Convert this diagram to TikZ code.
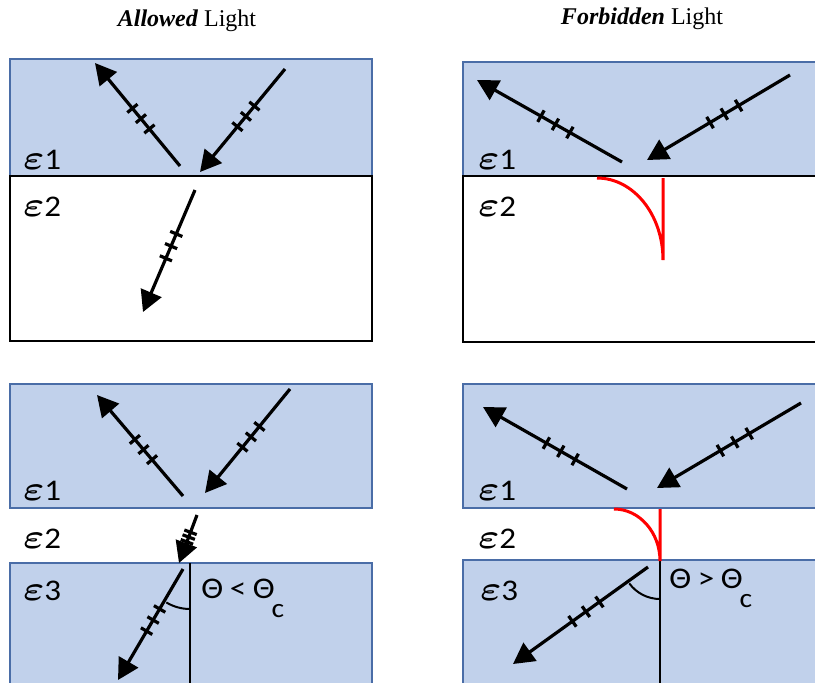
\documentclass[tikz,border=0pt]{standalone}
\usepackage{fontspec}
\usepackage{bm}
\setmainfont{Liberation Serif}
\newfontfamily\calfont{Carlito}
\usetikzlibrary{arrows.meta,decorations.markings}
\definecolor{mediumfill}{HTML}{C1D1EB}
\definecolor{mediumedge}{HTML}{4A6DA7}
\definecolor{fieldred}{HTML}{FF0000}
\newcommand{\widetext}[1]{\scalebox{1.1}[1]{#1}}
\newcommand{\permittivity}[1]{\scalebox{1.15}[1]{\fontsize{16}{16}\selectfont$\bm{\varepsilon}$}\widetext{#1}}
\newcommand{\critical}{\raisebox{-9.5pt}{\widetext{\fontsize{13.5}{14}\selectfont c}}}

\begin{document}
\begin{tikzpicture}[x=0.5pt,y=-0.5pt,
  mediumbox/.style={fill=mediumfill,draw=mediumedge,line width=0.6pt},
  gapbox/.style={fill=white,draw=black,line width=1.1pt},
  paneltitle/.style={font=\fontsize{12}{14}\selectfont,inner sep=0pt},
  mlabel/.style={font=\calfont\fontsize{15}{17}\selectfont,anchor=west,inner sep=0pt},
  anglelabel/.style={mlabel,anchor=base west},
  polarization/.style={-,line width=1.6pt,draw=black},
  lightray/.style={draw=black,line width=1.6pt,-{Triangle[length=10.5pt,width=11pt]},
    postaction={decorate,decoration={markings,
      mark=at position 0.36 with {\draw[polarization] (0,-3.3pt) -- (0,3.3pt);},
      mark=at position 0.46 with {\draw[polarization] (0,-3.3pt) -- (0,3.3pt);},
      mark=at position 0.56 with {\draw[polarization] (0,-3.3pt) -- (0,3.3pt);}}}},
  evanescent/.style={draw=fieldred,line width=1.5pt},
  normalline/.style={draw=black,line width=1.3pt},
  anglearc/.style={draw=black,line width=1pt}
]
\path[use as bounding box] (0,0) rectangle (815,682);
\clip (0,0) rectangle (815,682);

% Column titles
\node[paneltitle] (allowedtitle) at (187,21) {\textbf{\textit{Allowed}} Light};
\node[paneltitle] (forbiddentitle) at (642,19) {\textbf{\textit{Forbidden}} Light};

% Allowed, two media
\draw[mediumbox] (10,59) rectangle (372,176);
\draw[gapbox] (10,176) rectangle (372,341);
\node[mlabel] (aeps1) at (23,160) {\permittivity{1}};
\node[mlabel] (aeps2) at (23,207) {\permittivity{2}};
\coordinate (arefS) at (180,166);
\coordinate (arefE) at (95,63);
\coordinate (aincS) at (285,69);
\coordinate (aincE) at (200,172);
\coordinate (atrS) at (195,190);
\coordinate (atrE) at (143,312);
\draw[lightray] (arefS) -- (arefE);
\draw[lightray] (aincS) -- (aincE);
\draw[lightray] (atrS) -- (atrE);

% Forbidden, two media
\draw[mediumbox] (463,62) rectangle (830,176);
\draw[gapbox] (463,176) rectangle (830,342);
\node[mlabel] (beps1) at (478,160) {\permittivity{1}};
\node[mlabel] (beps2) at (478,207) {\permittivity{2}};
\coordinate (brefS) at (622,162);
\coordinate (brefE) at (477,80);
\coordinate (bincS) at (790,75);
\coordinate (bincE) at (647,160);
\draw[lightray] (brefS) -- (brefE);
\draw[lightray] (bincS) -- (bincE);
\coordinate (bfield) at (597,178);
\coordinate (bfieldtop) at (663,178);
\draw[evanescent] (bfield) arc[start angle=270,end angle=360,x radius=66,y radius=82] -- (bfieldtop);

% Allowed, three media
\draw[mediumbox] (10,384) rectangle (372,508);
\draw[mediumbox] (10,563) rectangle (372,700);
\node[mlabel] (ceps1) at (23,491) {\permittivity{1}};
\node[mlabel] (ceps2) at (23,539) {\permittivity{2}};
\node[mlabel] (ceps3) at (23,591) {\permittivity{3}};
\coordinate (crefS) at (183,496);
\coordinate (crefE) at (97,395);
\coordinate (cincS) at (290,389);
\coordinate (cincE) at (205,493);
\coordinate (cgapS) at (197,515);
\coordinate (cgapE) at (179,563);
\coordinate (ctrS) at (183,569);
\coordinate (ctrE) at (118,680);
\coordinate (cnormal) at (190,563);
\coordinate (cnormalend) at (190,700);
\draw[normalline] (cnormal) -- (cnormalend);
\draw[anglearc] (cnormal) ++(90:46) arc[start angle=90,end angle=121,radius=46];
\draw[lightray] (crefS) -- (crefE);
\draw[lightray] (cincS) -- (cincE);
\draw[lightray] (cgapS) -- (cgapE);
\draw[lightray] (ctrS) -- (ctrE);
\node[anglelabel] (cangle) at (201,598)
  {\widetext{Θ\hspace{3pt}<\hspace{3pt}Θ}\hspace{-1.5pt}\critical};

% Forbidden, three media
\draw[mediumbox] (463,384) rectangle (830,508);
\draw[mediumbox] (463,560) rectangle (830,700);
\node[mlabel] (deps1) at (478,491) {\permittivity{1}};
\node[mlabel] (deps2) at (478,539) {\permittivity{2}};
\node[mlabel] (deps3) at (480,591) {\permittivity{3}};
\coordinate (drefS) at (627,489);
\coordinate (drefE) at (483,407);
\coordinate (dincS) at (801,403);
\coordinate (dincE) at (657,488);
\coordinate (dtrS) at (648,567);
\coordinate (dtrE) at (513,664);
\coordinate (dnormal) at (660,561);
\coordinate (dnormalend) at (660,700);
\coordinate (dfield) at (614,509);
\coordinate (dfieldtop) at (660,509);
\draw[normalline] (dnormal) -- (dnormalend);
\draw[evanescent] (dfield) arc[start angle=270,end angle=360,x radius=46,y radius=52] -- (dfieldtop);
\draw[anglearc] (dnormal) ++(90:38) arc[start angle=90,end angle=144,radius=38];
\draw[lightray] (drefS) -- (drefE);
\draw[lightray] (dincS) -- (dincE);
\draw[lightray] (dtrS) -- (dtrE);
\node[anglelabel] (dangle) at (669,588)
  {\widetext{Θ\hspace{3pt}>\hspace{3pt}Θ}\hspace{-1.5pt}\critical};

\end{tikzpicture}
\end{document}
